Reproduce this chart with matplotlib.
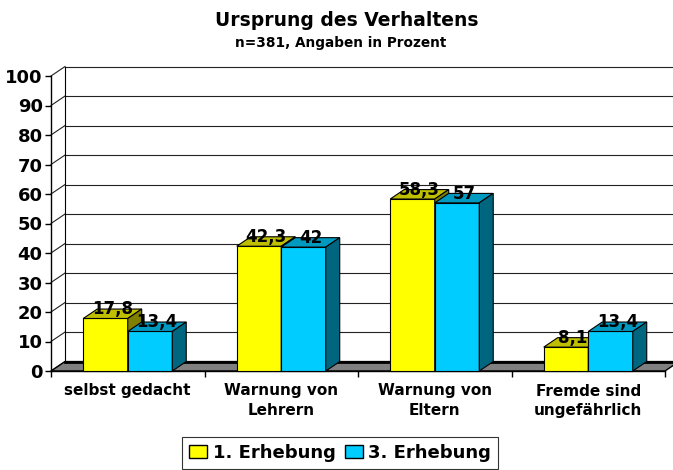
import matplotlib
matplotlib.use('Agg')
import matplotlib.pyplot as plt
from matplotlib.patches import Polygon, Rectangle, Patch

# Data
categories = ['selbst gedacht', 'Warnung von\nLehrern', 'Warnung von\nEltern', 'Fremde sind\nungefährlich']
erhebung_1 = [17.8, 42.3, 58.3, 8.1]
erhebung_3 = [13.4, 42, 57, 13.4]
series_names = ['1. Erhebung', '3. Erhebung']
y_ticks = list(range(0, 101, 10))

# colours: front, top, side
yellow = ('#FFFF00', '#BFBF00', '#808000')
cyan = ('#00CCFF', '#0099C0', '#006680')

plt.rcParams['font.family'] = 'DejaVu Sans'
plt.rcParams['font.weight'] = 'bold'

fig = plt.figure(figsize=(6.73, 4.70), dpi=100)
ax = fig.add_axes([51 / 673, 1 - 371 / 470, 614 / 673, 295 / 470])
n = len(categories)
ax.set_xlim(0, n)
ax.set_ylim(0, 100)

# depth offset of the 3D box (data units)
DX = 0.091
DY = 3.2

# back wall + left wall gridlines
for v in y_ticks:
    ax.plot([DX, n + DX + 0.2], [v + DY, v + DY], color='#222222', lw=0.8, clip_on=False, zorder=1)
    ax.plot([0, DX], [v, v + DY], color='#222222', lw=0.8, clip_on=False, zorder=1)
ax.plot([DX, DX], [DY, 100 + DY], color='black', lw=0.8, clip_on=False, zorder=1)

# floor
floor = Polygon([(0, 0), (n, 0), (n + DX, DY), (DX, DY)], closed=True,
                facecolor='#808080', edgecolor='black', lw=1, clip_on=False, zorder=2)
ax.add_patch(floor)
ax.plot([DX, n + DX + 0.2], [DY, DY], color='black', lw=2, clip_on=False, zorder=2)


def bar3d(x0, w, h, cols):
    front, top, side = cols
    ax.add_patch(Rectangle((x0, 0), w, h, facecolor=front, edgecolor='black', lw=0.8, zorder=3, clip_on=False))
    ax.add_patch(Polygon([(x0, h), (x0 + w, h), (x0 + w + DX, h + DY), (x0 + DX, h + DY)],
                         closed=True, facecolor=top, edgecolor='black', lw=0.8, zorder=3, clip_on=False))
    ax.add_patch(Polygon([(x0 + w, 0), (x0 + w + DX, DY), (x0 + w + DX, h + DY), (x0 + w, h)],
                         closed=True, facecolor=side, edgecolor='black', lw=0.8, zorder=3, clip_on=False))


def fmt(v):
    return f'{v:g}'.replace('.', ',')


bw = 0.29
for i in range(n):
    c = i + 0.5
    bar3d(c - bw, bw, erhebung_1[i], yellow)
    bar3d(c, bw, erhebung_3[i], cyan)
for i in range(n):
    c = i + 0.5
    for x0, v in [(c - bw, erhebung_1[i]), (c, erhebung_3[i])]:
        ax.text(x0 + bw / 2 + DX / 2, v + DY * 0.45, fmt(v), ha='center', va='baseline',
                fontsize=12, fontweight='bold', zorder=10)

# axes
for s in ['top', 'right']:
    ax.spines[s].set_visible(False)
ax.spines['left'].set_linewidth(1)
ax.spines['bottom'].set_linewidth(1)
ax.spines['left'].set_zorder(2)
ax.spines['bottom'].set_zorder(2)
ax.set_facecolor('none')

ax.set_yticks(y_ticks)
ax.tick_params(axis='y', length=4, width=1, pad=2, labelsize=13)
ax.set_xticks(range(n + 1))
ax.set_xticklabels([])
ax.tick_params(axis='x', which='major', length=4, width=1)
ax.set_xticks([i + 0.5 for i in range(n)], minor=True)
ax.set_xticklabels(categories, minor=True, fontsize=11, fontweight='bold', linespacing=1.35)
ax.tick_params(axis='x', which='minor', length=0, pad=9)

# titles
fig.text(347 / 673, 1 - 21 / 470, 'Ursprung des Verhaltens', ha='center', va='center',
         fontsize=13.5, fontweight='bold')
fig.text(341 / 673, 1 - 43 / 470, 'n=381, Angaben in Prozent', ha='center', va='center',
         fontsize=9.8, fontweight='bold')

# legend
handles = [Patch(facecolor=yellow[0], edgecolor='black'), Patch(facecolor=cyan[0], edgecolor='black')]
leg = fig.legend(handles, series_names, loc='upper center', bbox_to_anchor=(340 / 673, 1 - 437 / 470),
                 ncol=2, frameon=True, fancybox=False, prop={'size': 13, 'weight': 'bold'},
                 handlelength=1.0, handleheight=0.73, handletextpad=0.3, columnspacing=0.5,
                 borderpad=0.4, borderaxespad=0)
leg.get_frame().set_edgecolor('black')
leg.get_frame().set_linewidth(0.8)

fig.savefig('out.png', dpi=100)
